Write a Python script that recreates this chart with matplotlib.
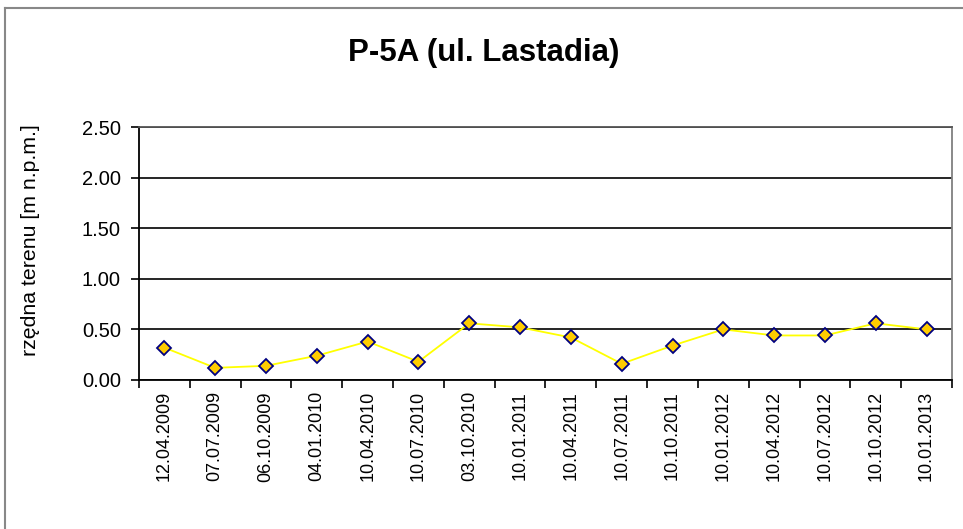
import matplotlib
matplotlib.use('Agg')
import matplotlib.pyplot as plt
from matplotlib.lines import Line2D

plt.rcParams['font.family'] = ['Liberation Sans', 'DejaVu Sans']

# data
dates = ['12.04.2009', '07.07.2009', '06.10.2009', '04.01.2010', '10.04.2010',
         '10.07.2010', '03.10.2010', '10.01.2011', '10.04.2011', '10.07.2011',
         '10.10.2011', '10.01.2012', '10.04.2012', '10.07.2012', '10.10.2012',
         '10.01.2013']
levels = [0.32, 0.12, 0.14, 0.24, 0.38, 0.18, 0.56, 0.52, 0.42, 0.16,
          0.34, 0.50, 0.44, 0.44, 0.56, 0.50]
y_ticks = [0.0, 0.5, 1.0, 1.5, 2.0, 2.5]

fig = plt.figure(figsize=(9.63, 5.29), dpi=100)
ax = fig.add_axes([0.1443, 0.2817, 0.8443, 0.4782])

x = list(range(len(dates)))
ax.plot(x, levels, color='#FFFF00', lw=1.3, zorder=3,
        marker='D', markersize=7, markerfacecolor='#FFCC00',
        markeredgecolor='#000080', markeredgewidth=1.3)

ax.set_xlim(-0.5, len(dates) - 0.5)
ax.set_ylim(0, 2.5)
ax.set_yticks(y_ticks)
ax.set_yticklabels([f'{v:.2f}' for v in y_ticks], fontsize=14.5)
ax.yaxis.grid(True, color='black', lw=1.2)
ax.set_axisbelow(True)

# category ticks sit between the points, labels sit under the points
ax.set_xticks([i - 0.5 for i in range(len(dates) + 1)])
ax.set_xticklabels([])
ax.set_xticks(x, minor=True)
ax.set_xticklabels(dates, minor=True, rotation=90, fontsize=13)
ax.tick_params(axis='x', which='minor', length=0, pad=8)
ax.tick_params(axis='x', which='major', length=6, width=1.2, direction='out')
ax.tick_params(axis='y', length=6, width=1.2, direction='out', pad=7)

for s in ['left', 'bottom']:
    ax.spines[s].set_linewidth(1.3)
    ax.spines[s].set_color('black')
ax.spines['right'].set_color('#808080')
ax.spines['right'].set_linewidth(1.3)
ax.spines['top'].set_color('#555555')
ax.spines['top'].set_linewidth(1.3)

ax.set_ylabel('rzędna terenu [m n.p.m.]', fontsize=15.3)
ax.yaxis.set_label_coords(-0.122, 0.552)
fig.text(0.502, 0.9, 'P-5A (ul. Lastadia)', ha='center', va='center',
         fontsize=22.5, fontweight='bold')

# outer chart frame (left and top edges visible)
fig.add_artist(Line2D([0.0057, 0.0057], [0.0, 0.985], color='#888888', lw=1.5))
fig.add_artist(Line2D([0.0057, 1.0], [0.985, 0.985], color='#888888', lw=1.5))

fig.savefig('out.png', dpi=100)
